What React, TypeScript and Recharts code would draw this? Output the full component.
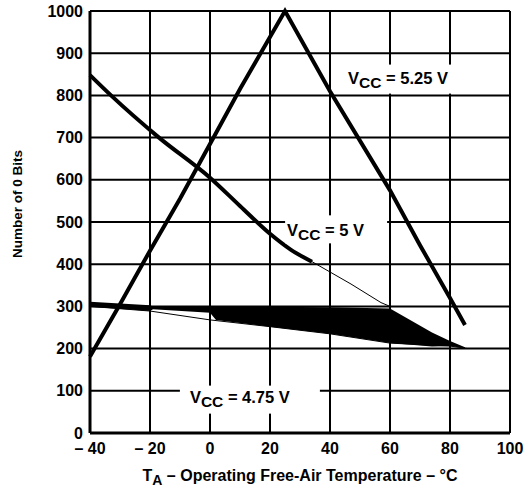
import React from "react";
import {
  ComposedChart,
  Line,
  Area,
  XAxis,
  YAxis,
  CartesianGrid,
  ReferenceDot,
} from "recharts";

// temperature ticks and count ticks
const xTicks = [-40, -20, 0, 20, 40, 60, 80, 100];
const yTicks = [0, 100, 200, 300, 400, 500, 600, 700, 800, 900, 1000];

// VCC = 5.25 V
const v525Temp = [-40, -30, -20, -10, 0, 10, 25, 40, 60, 70, 80, 85];
const v525Bits = [181, 305, 432, 555, 685, 815, 1000, 810, 575, 445, 320, 256];

// VCC = 5 V (solid part, then the thin tail)
const v5Temp = [-40, -33, -17, 0, 10, 20, 27, 34];
const v5Bits = [848, 800, 700, 605, 538, 472, 434, 406];
const v5TailTemp = [34, 47, 57, 60];
const v5TailBits = [406, 353, 309, 300];

// VCC = 4.75 V shaded band
const bandTemp = [-40, -20, -19, 0, 2, 20, 40, 60, 74, 80, 85];
const bandHigh = [311, 303, 300, 300, 300, 299, 298, 295, 238, 218, 203];
const bandLow = [299, 289, 293, 285, 268, 252, 235, 213, 205, 206, 201];
const edgeTemp = [-40, -20, 0, 20, 40, 60, 80, 86];
const edgeBits = [300, 289, 268, 252, 235, 213, 206, 200];

// curve labels, anchored in data units
const labelTemp = [46, 25.7, -6.7];
const labelBits = [828, 466, 72];
const labelText = ["5.25 V", "5 V", "4.75 V"];

// white box behind each label (px, relative to the text anchor)
const boxes = [
  { dx: -8, dy: -19, w: 122, h: 29 },
  { dx: -2, dy: -21, w: 102, h: 28 },
  { dx: -10, dy: -17, w: 140, h: 28 },
];

const v525 = v525Temp.map((t, i) => ({ t, bits: v525Bits[i] }));
const v5 = v5Temp.map((t, i) => ({ t, bits: v5Bits[i] }));
const v5Tail = v5TailTemp.map((t, i) => ({ t, bits: v5TailBits[i] }));
const band = bandTemp.map((t, i) => ({ t, range: [bandLow[i], bandHigh[i]] }));
const edge = edgeTemp.map((t, i) => ({ t, bits: edgeBits[i] }));

const font = "'Liberation Sans', Arial, Helvetica, sans-serif";

const fmtX = (v: number) => (v < 0 ? `\u2013 ${Math.abs(v)}` : `${v}`);

// eslint-disable-next-line @typescript-eslint/no-explicit-any
const vccLabel = (i: number) => (p: any) => {
  const b = boxes[i];
  return (
    <g>
      <rect x={p.cx + b.dx} y={p.cy + b.dy} width={b.w} height={b.h} fill="#fff" />
      <text x={p.cx} y={p.cy} fontFamily={font} fontSize={16.5} fontWeight="bold" fill="#000">
        <tspan>V</tspan>
        <tspan dy={4} fontSize={15.5}>CC</tspan>
        <tspan dy={-4}>{` = ${labelText[i]}`}</tspan>
      </text>
    </g>
  );
};

export default function App() {
  return (
    <div style={{ position: "absolute", left: 0, top: 0, width: 532, height: 491, background: "#fff" }}>
      <ComposedChart
        width={532}
        height={491}
        margin={{ top: 11, right: 22, left: 10, bottom: 0 }}
      >
        <CartesianGrid stroke="#000" strokeWidth={2} />
        <XAxis
          type="number"
          dataKey="t"
          domain={[-40, 100]}
          ticks={xTicks}
          tickFormatter={fmtX}
          height={58}
          tickSize={0}
          tickMargin={10}
          axisLine={{ stroke: "#000", strokeWidth: 3 }}
          tick={{ fill: "#000", fontSize: 16, fontWeight: "bold", fontFamily: font }}
          allowDuplicatedCategory={false}
        />
        <YAxis
          type="number"
          domain={[0, 1000]}
          ticks={yTicks}
          width={80}
          tickSize={0}
          tickMargin={7}
          axisLine={{ stroke: "#000", strokeWidth: 3 }}
          tick={{ fill: "#000", fontSize: 16, fontWeight: "bold", fontFamily: font }}
        />
        <Area
          data={band}
          dataKey="range"
          type="linear"
          fill="#000"
          fillOpacity={1}
          stroke="none"
          isAnimationActive={false}
        />
        <Line data={edge} dataKey="bits" type="linear" stroke="#000" strokeWidth={1} dot={false} isAnimationActive={false} />
        <Line data={v525} dataKey="bits" type="linear" stroke="#000" strokeWidth={4} dot={false} isAnimationActive={false} />
        <Line data={v5} dataKey="bits" type="monotone" stroke="#000" strokeWidth={4} dot={false} isAnimationActive={false} />
        <Line data={v5Tail} dataKey="bits" type="linear" stroke="#000" strokeWidth={1} dot={false} isAnimationActive={false} />
        {labelTemp.map((t, i) => (
          <ReferenceDot key={labelText[i]} x={t} y={labelBits[i]} r={0} shape={vccLabel(i)} />
        ))}
      </ComposedChart>
      <svg width={532} height={491} style={{ position: "absolute", left: 0, top: 0, pointerEvents: "none" }}>
        <text
          transform="translate(22,204) rotate(-90)"
          textAnchor="middle"
          fontFamily={font}
          fontSize={13.5}
          fontWeight="bold"
          fill="#000"
        >
          Number of 0 Bits
        </text>
        <text x={300} y={481} textAnchor="middle" fontFamily={font} fontSize={16} fontWeight="bold" fill="#000">
          <tspan>T</tspan>
          <tspan dy={4} fontSize={14}>A</tspan>
          <tspan dy={-4}>{" \u2013 Operating Free-Air Temperature \u2013 \u00b0C"}</tspan>
        </text>
      </svg>
    </div>
  );
}
